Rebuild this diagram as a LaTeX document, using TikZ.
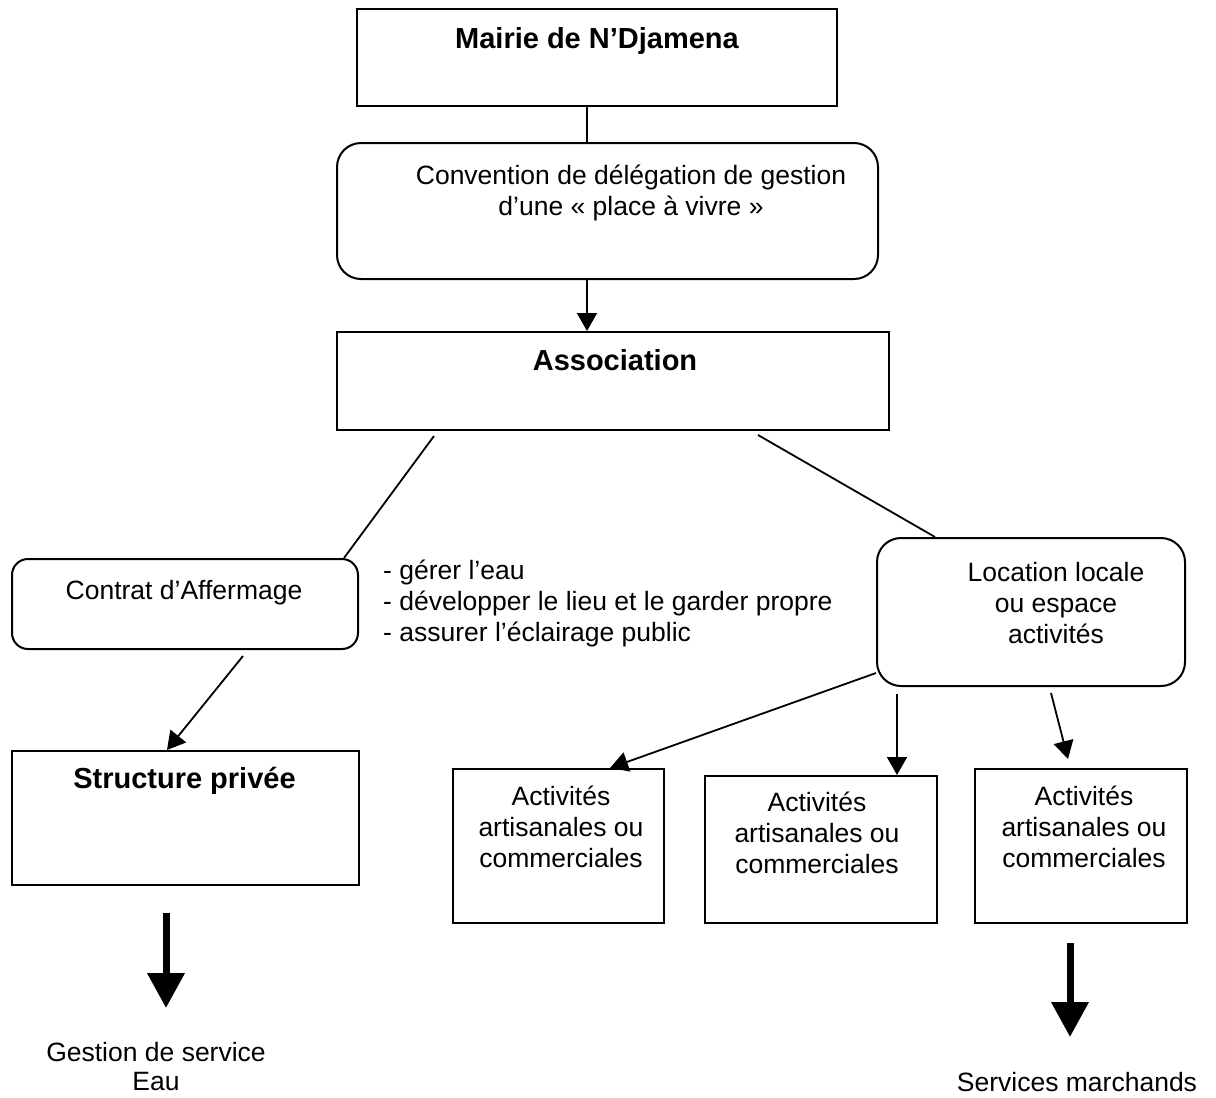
\documentclass[tikz,border=0pt]{standalone}
\usepackage{fontspec}
\setmainfont{Liberation Sans}
\usetikzlibrary{arrows.meta,calc}
\begin{document}
\begin{tikzpicture}[x=1pt,y=-1pt,
  box/.style={draw,line width=2pt,inner sep=0pt},
  rbox/.style={box,rounded corners=24pt},
  txt/.style={inner sep=0pt,align=center,font=\fontsize{26.5}{31}\selectfont},
  ttl/.style={inner sep=0pt,font=\fontsize{29}{34}\selectfont\bfseries},
  con/.style={line width=1.8pt},
  arr/.style={con,-{Triangle[width=20pt,length=18pt]}},
  bigarr/.style={line width=7pt,-{Triangle[width=36pt,length=35pt]}}]
\useasboundingbox (0,0) rectangle (1216,1098);
\node[box,minimum width=480pt,minimum height=97pt] (mairie) at (597,57.5) {};
\node[ttl] (mairie-t) at (597,40.5) {Mairie de N’Djamena};
\node[rbox,minimum width=541pt,minimum height=136pt] (conv) at (607.5,211) {};
\node[txt] (conv-t) at (631,192.5) {Convention de délégation de gestion\\d’une « place à vivre »};
\node[box,minimum width=552pt,minimum height=98pt] (assoc) at (613,381) {};
\node[ttl] (assoc-t) at (615,360.5) {Association};
\node[box,rounded corners=16pt,minimum width=346pt,minimum height=90pt] (contrat) at (185,604) {};
\node[txt] (contrat-t) at (184,593) {Contrat d’Affermage};
\node[txt,align=left,anchor=west] (taches) at (383,603) {- gérer l’eau\\- développer le lieu et le garder propre\\- assurer l’éclairage public};
\node[rbox,minimum width=308pt,minimum height=148pt] (loc) at (1031,612) {};
\node[txt] (loc-t) at (1056,603) {Location locale\\ou espace\\activités};
\node[box,minimum width=347pt,minimum height=134pt] (struct) at (185.5,818) {};
\node[ttl] (struct-t) at (184.5,780.5) {Structure privée};
\foreach \n/\x/\y/\w/\h/\tx/\ty in {act1/558.5/846/211/154/561/827,act2/821/849.5/232/147/817/833,act3/1081/846/212/154/1084/827}{
  \node[box,minimum width=\w pt,minimum height=\h pt] (\n) at (\x,\y) {};
  \node[txt] (\n-t) at (\tx,\ty) {Activités\\artisanales ou\\commerciales};
}
\node[txt,font=\fontsize{26.5}{29}\selectfont] (eau) at (156,1067) {Gestion de service\\Eau};
\node[txt] (srv) at (1077,1082) {Services marchands};
\coordinate (eauTip) at (166,1008);
\coordinate (srvTip) at (1070,1037);
\draw[con] ([xshift=-10pt]mairie.south) -- ([xshift=-10pt]mairie.south |- conv.north);
\draw[arr] ([xshift=-20.5pt]conv.south) -- ([xshift=-20.5pt]conv.south |- assoc.north);
\draw[con] ([xshift=-179pt,yshift=-5pt]assoc.south) -- ([xshift=159pt]contrat.north);
\draw[con] ([xshift=145pt,yshift=-4pt]assoc.south) -- ([xshift=-96pt]loc.north);
\draw[arr] ([xshift=58pt,yshift=-6pt]contrat.south) -- ([xshift=-18.5pt]struct.north);
\draw[arr] ([yshift=-61pt]loc.west) -- ([xshift=51.5pt]act1.north);
\draw[arr] ([xshift=-134pt,yshift=-7pt]loc.south) -- ([xshift=-134pt]loc.south |- act2.north);
\draw[arr] ([xshift=20pt,yshift=-6pt]loc.south) -- ([xshift=-13pt,yshift=9pt]act3.north);
\draw[bigarr] ([xshift=-19.5pt,yshift=-27pt]struct.south) -- (eauTip);
\draw[bigarr] ([xshift=-11pt,yshift=-19pt]act3.south) -- (srvTip);
\end{tikzpicture}
\end{document}
